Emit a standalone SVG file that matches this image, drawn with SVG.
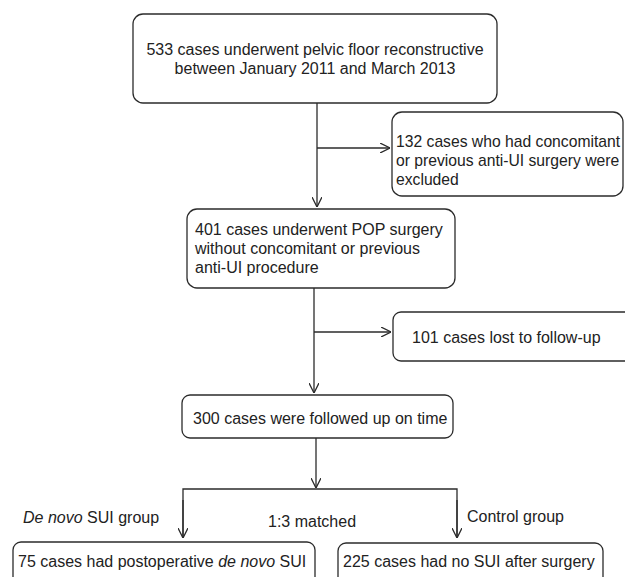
<svg xmlns="http://www.w3.org/2000/svg" width="625" height="577" viewBox="0 0 625 577">
<defs>
<marker id="arr" viewBox="0 0 10 10" refX="10" refY="5" markerWidth="10" markerHeight="10" markerUnits="userSpaceOnUse" orient="auto">
<path d="M0,0 L10,5 L0,10" fill="none" stroke="#2b2b2b" stroke-width="1.3"/>
</marker>
<style>
.box{fill:#fff;stroke:#2b2b2b;stroke-width:1.3}
.t{font-family:"Liberation Sans",Arial,sans-serif;font-size:16px;fill:#222}
.c{fill:none;stroke:#2b2b2b;stroke-width:1.3}
.a{marker-end:url(#arr)}
</style>
</defs>
<rect width="625" height="577" fill="#fff"/>
<g id="connectors">
<line class="c a" x1="317" y1="103" x2="317" y2="207"/>
<line class="c a" x1="317" y1="148" x2="390" y2="148"/>
<line class="c a" x1="314" y1="288" x2="314" y2="393"/>
<line class="c a" x1="314" y1="332" x2="391" y2="332"/>
<line class="c a" x1="316" y1="438" x2="316" y2="488"/>
<polyline class="c" points="183,537 183,489 457,489 457,537"/>
<line class="c a" x1="183" y1="500" x2="183" y2="538"/>
<line class="c a" x1="457" y1="500" x2="457" y2="538"/>
</g>
<g id="n1">
<rect class="box" x="133" y="14" width="364" height="89" rx="10"/>
<text class="t" x="315" y="55" text-anchor="middle">533 cases underwent pelvic floor reconstructive</text>
<text class="t" x="315" y="74" text-anchor="middle">between January 2011 and March 2013</text>
</g>
<g id="n2">
<rect class="box" x="392" y="112" width="231" height="84" rx="10"/>
<text class="t" x="396" y="147" style="font-size:15.7px">132 cases who had concomitant</text>
<text class="t" x="396" y="166" style="font-size:15.7px">or previous anti-UI surgery were</text>
<text class="t" x="396" y="185" style="font-size:15.7px">excluded</text>
</g>
<g id="n3">
<rect class="box" x="187" y="209" width="268" height="79" rx="10"/>
<text class="t" x="195" y="235">401 cases underwent POP surgery</text>
<text class="t" x="195" y="254">without concomitant or previous</text>
<text class="t" x="195" y="273">anti-UI procedure</text>
</g>
<g id="n4">
<rect class="box" x="393" y="312" width="245" height="49" rx="8"/>
<text class="t" x="412" y="343">101 cases lost to follow-up</text>
</g>
<g id="n5">
<rect class="box" x="182" y="395" width="271" height="43" rx="8"/>
<text class="t" x="193" y="424">300 cases were followed up on time</text>
</g>
<g id="labels">
<text class="t" x="23" y="523"><tspan font-style="italic">De novo</tspan> SUI group</text>
<text class="t" x="268" y="527">1:3 matched</text>
<text class="t" x="467" y="522">Control group</text>
</g>
<g id="n6">
<rect class="box" x="13" y="542" width="302" height="50" rx="8"/>
<text class="t" x="18" y="567">75 cases had postoperative <tspan font-style="italic">de novo</tspan> SUI</text>
</g>
<g id="n7">
<rect class="box" x="338" y="543" width="265" height="50" rx="8"/>
<text class="t" x="343" y="567">225 cases had no SUI after surgery</text>
</g>
</svg>
